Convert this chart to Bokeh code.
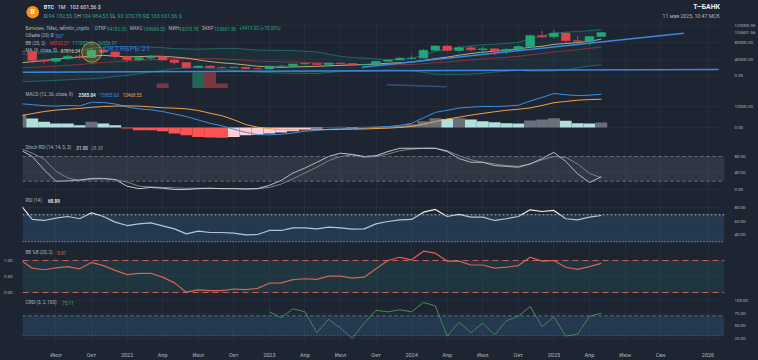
from bokeh.plotting import figure
from bokeh.layouts import column
from bokeh.models import (Range1d, LinearAxis, FixedTicker, PrintfTickFormatter, Label,
                          ColumnDataSource, Span, BoxAnnotation, Grid)
from bokeh.embed import file_html
from bokeh.resources import INLINE

# ====================== DATA ======================
months = [f"{y}-{m:02d}" for y in range(2021, 2026) for m in range(1, 13)
          if (2021, 4) <= (y, m) <= (2025, 5)]

open_usd = [58730, 57720, 37330, 35040, 41460, 47100, 43820, 61300, 56950,
            46210, 38470, 43160, 45510, 37640, 31790, 19940, 23300, 20050, 19420, 20490, 17170,
            16540, 23130, 23140, 28460, 29230, 27210, 30470, 29230, 25940, 26970, 34640, 37720,
            42280, 42580, 61130, 71330, 60640, 67490, 62680, 64630, 58970, 63330, 70220, 96410,
            93430, 102430, 84350, 82550, 94182.55]
high_usd = [64850, 59520, 41330, 42450, 50500, 52920, 67020, 69000, 59050,
            47990, 45820, 48190, 47440, 40000, 31960, 24670, 25210, 22800, 20990, 21480, 18390,
            23950, 25250, 29180, 31000, 29820, 31430, 31800, 30190, 27480, 35200, 38410, 44700,
            48970, 64000, 73780, 72720, 71980, 71950, 70000, 65650, 66500, 73620, 99590, 108350,
            109590, 102500, 95000, 95760, 104984.53]
low_usd = [47040, 30000, 28800, 29280, 37330, 39600, 43280, 53260, 42000,
           32930, 34320, 37160, 37580, 26700, 17570, 18780, 19520, 18130, 18170, 15480, 16260,
           16500, 21350, 19570, 26940, 25810, 24800, 28860, 25330, 24900, 26540, 34100, 37620,
           38560, 41880, 59000, 59120, 56550, 58400, 53490, 49000, 52550, 58900, 66800, 90500,
           89260, 78170, 76610, 74430, 93370.78]
close_usd = [57720, 37330, 35040, 41460, 47100, 43820, 61300, 56950, 46210,
             38470, 43160, 45510, 37640, 31790, 19940, 23300, 20050, 19420, 20490, 17170, 16540,
             23130, 23140, 28460, 29230, 27210, 30470, 29230, 25940, 26970, 34640, 37720, 42280,
             42580, 61130, 71330, 60640, 67490, 62680, 64630, 58970, 63330, 70220, 96410, 93430,
             102430, 84350, 82550, 94180, 103601.56]
volume = [0, 0, 0, 0, 0, 0, 0, 0, 0,
          0, 0, 0, 120, 0, 0, 380, 380, 120, 0, 0, 0,
          0, 0, 0, 0, 0, 0, 0, 0, 0, 0, 0, 0,
          0, 0, 0, 0, 0, 0, 0, 0, 0, 0, 0, 0,
          0, 0, 0, 0, 0]

ma9 = [31.08, 33.93, 36.63, 39.70, 42.74, 44.39, 47.52, 48.83, 47.44, 45.30, 45.95, 47.11, 46.68,
       44.98, 42.33, 38.11, 34.01, 31.03, 29.03, 26.15, 22.93, 21.31, 20.35, 21.30, 21.96, 22.75,
       23.98, 24.95, 25.93, 27.09, 28.37, 29.99, 31.52, 33.00, 36.77, 41.31, 44.80, 49.42, 53.39,
       56.72, 59.08, 61.42, 64.49, 68.41, 70.87, 75.51, 77.38, 79.59, 82.87, 87.82]
bb_basis = [18.75, 20.20, 21.49, 23.19, 25.18, 26.91, 29.54, 32.07, 33.94, 35.39, 37.10, 38.80,
            40.10, 41.15, 41.46, 41.64, 41.19, 40.51, 39.27, 37.19, 35.13, 34.42, 33.83, 33.18,
            32.29, 31.46, 29.91, 28.53, 27.51, 26.94, 26.51, 26.12, 26.36, 26.90, 28.96, 31.36,
            33.39, 35.79, 37.90, 40.27, 42.39, 44.40, 46.76, 50.16, 53.37, 57.13, 59.82, 62.49,
            65.90, 68.72]
bb_upper = [51.63, 53.66, 55.15, 57.29, 59.96, 61.79, 66.40, 69.17, 69.90, 69.59, 69.22, 68.84,
            67.46, 65.35, 64.38, 63.92, 64.79, 65.73, 65.87, 63.87, 61.51, 61.28, 61.13, 60.34,
            58.71, 57.44, 51.99, 46.77, 43.89, 42.52, 40.71, 38.54, 39.74, 41.88, 49.74, 58.96,
            63.23, 68.37, 71.68, 74.57, 75.79, 77.78, 80.42, 89.04, 95.29, 102.35, 104.82, 106.19,
            108.30, 111.04]
bb_lower = [-14.13, -13.26, -12.17, -10.91, -9.60, -7.97, -7.32, -5.03, -2.02, 1.19, 4.98, 8.76,
            12.74, 16.95, 18.54, 19.36, 17.59, 15.29, 12.67, 10.51, 8.75, 7.57, 6.53, 6.02, 5.87,
            5.48, 7.83, 10.29, 11.14, 11.36, 12.31, 13.70, 12.98, 11.92, 8.18, 3.76, 3.55, 3.21,
            4.12, 5.97, 8.99, 11.02, 13.10, 11.28, 11.45, 11.91, 14.82, 18.79, 23.50, 26.34]

macd_line = [11.3, 10.9, 10.4, 10.2, 10.5, 10.3, 12.0, 11.9, 11.2, 9.8, 8.9, 8.4, 7.6, 6.4, 5.2,
             3.6, 2.0, 0.8, -0.8, -2.3, -3.4, -3.5, -3.2, -2.6, -1.8, -1.4, -0.8, -0.6, -0.5,
             -0.4, 0.0, 0.4, 1.0, 2.0, 4.6, 7.2, 8.2, 9.3, 9.7, 10.0, 10.0, 10.2, 10.6, 12.6,
             14.3, 16.2, 15.6, 15.2, 15.4, 15.83]
macd_signal = [5.6, 6.6, 7.6, 8.3, 8.7, 9.1, 9.6, 10.0, 10.2, 10.3, 10.2, 9.8, 9.4, 9.2, 8.9,
               8.1, 6.8, 5.6, 3.7, 1.4, 0.2, -0.6, -1.0, -1.1, -1.1, -1.0, -1.0, -0.9, -0.8,
               -0.7, -0.5, -0.3, 0.0, 0.5, 1.6, 2.8, 4.1, 4.9, 5.9, 6.7, 7.5, 8.2, 8.7, 9.3,
               10.5, 11.8, 12.4, 13.0, 13.3, 13.47]
macd_hist = [6.1, 4.3, 2.7, 1.9, 1.85, 1.1, 2.7, 1.9, 1.1, -0.5, -1.3, -1.35, -1.8, -2.9, -3.7,
             -4.5, -4.8, -4.85, -4.5, -3.7, -3.6, -2.9, -2.4, -1.8, -0.8, -0.5, 0.2, 0.3, 0.25,
             0.3, 0.5, 0.7, 1.0, 1.5, 3.0, 4.4, 4.1, 4.4, 3.8, 3.0, 2.5, 2.0, 1.9, 3.3, 3.8,
             4.4, 3.2, 2.0, 1.9, 2.365]

stoch_k = [96, 80, 48, 20, 21, 23, 27, 27, 24, 8, 2, 5, 3, 0, 0, 2, 3, 2, 2, 1, 2, 10, 22, 40,
           52, 66, 80, 88, 85, 80, 82, 92, 100, 100, 100, 100, 92, 75, 66, 66, 58, 56, 54, 62,
           75, 90, 68, 38, 17, 31.0]
stoch_d = [100, 88, 74, 44, 28, 22, 25, 26, 24, 18, 8, 6, 5, 4, 3, 3, 3, 2, 2, 2, 2, 5, 13, 26,
           40, 54, 70, 80, 84, 78, 80, 86, 94, 98, 100, 100, 94, 82, 72, 66, 62, 58, 56, 62,
           72, 80, 78, 62, 39, 28.38]
rsi = [85, 63, 61.5, 65, 67.4, 64, 73, 67.4, 59, 54, 56.5, 58, 53.6, 49, 41.7, 45.6, 43.7, 43.7,
       42.7, 40.3, 40.7, 46.7, 46.7, 50.6, 50.6, 49, 51.6, 50.6, 48.6, 49, 56.5, 60, 62.5, 63,
       73.8, 77.8, 67.4, 70.4, 66.4, 66.4, 61.5, 64, 67.4, 77.3, 74.8, 76.3, 64, 62.5, 66.4, 68.89]
bb_pct = [1.02, 0.76, 0.71, 0.77, 0.81, 0.74, 0.94, 0.84, 0.69, 0.56, 0.60, 0.60, 0.48, 0.30, 0.01,
          0.08, 0.06, 0.06, 0.11, 0.09, 0.13, 0.29, 0.30, 0.40, 0.43, 0.41, 0.51, 0.51, 0.45, 0.48,
          0.74, 1.0, 1.10, 1.02, 1.29, 1.23, 0.98, 0.98, 0.86, 0.86, 0.76, 0.79, 0.84, 1.10, 0.98,
          1.0, 0.79, 0.72, 0.81, 0.91]
crsi = [None] * 21 + [78, 66, 84, 78, 36, 63, 45, 24.5, 55, 81, 78, 82, 78, 97, 90, 29, 57, 36,
                      55, 31.6, 60, 69, 88.7, 48, 68, 29, 33, 69, 75.11]

# drawings on the price pane (month index, price)
hline_t, hline_p = [3.18, 61.9], [8600, 15100]
trend_t, trend_p = [31.82, 58.96], [20600, 102200]
seg_t, seg_p = [33.92, 38.94], [-21600, -26400]
mark_t, mark_p = [9.02], [56600]
note_t, note_p, note_txt = [10.05], [66200], ["ОКТЯБРЬ 21"]

price_ticks = [0, 40000, 80000, 120000]
last_price = 103601.56
x_tick_pos = [6, 9, 12, 15, 18, 21, 24, 27, 30, 33, 36, 39, 42, 45, 48, 51, 54, 57, 61]
x_tick_lab = ["Июл", "Окт", "2022", "Апр", "Июл", "Окт", "2023", "Апр", "Июл", "Окт", "2024",
              "Апр", "Июл", "Окт", "2025", "Апр", "Июн", "Сен", "2026"]

# ====================== STYLE / LAYOUT ======================
W = 758
LB, RB = 21, 30
T_LEFT, T_RIGHT = 3.18, 62.39
FONT = "Roboto"
BG = "#1e2532"
GRID = "#252d3a"
TXT = "#b2b5be"
WHITE = "#e1e3ea"
UP, DN = "#22a67a", "#e0434f"
LEG = 4.6

t = [(int(s[:4]) - 2021) * 12 + int(s[5:]) - 1 for s in months]
K = 1000.0
xr = Range1d(T_LEFT, T_RIGHT)

CW = {' ': .25, ',': .2, '.': .26, '(': .34, ')': .35, '%': .73, '+': .57, '-': .28, '$': .56,
      '_': .45, 'Ø': .69, '·': .26, 'i': .24, 'l': .24, 'r': .34, 't': .33, 'f': .35, 'M': .87,
      'm': .88, 'w': .75, 'Ь': .62, 'М': .87, 'Ж': .9, 'Ш': .9, 'Щ': .92, 'Ю': .9, '—': 1.0}


def tw(s, size, bold=False):
    w = 0.0
    for ch in s:
        if ch in CW:
            w += CW[ch]
        elif ch.isdigit():
            w += .562
        elif 'А' <= ch <= 'Я':
            w += .66
        elif 'а' <= ch <= 'я' or ch == 'ё':
            w += .55
        elif ch.isupper():
            w += .65
        else:
            w += .52
    return w * size * (1.06 if bold else 1.0)


def make_pane(height, yr, yticks, bottom=0):
    p = figure(width=W, height=height, x_range=xr, y_range=Range1d(*yr),
               output_backend="svg", toolbar_location=None,
               x_axis_location=None, y_axis_location=None,
               min_border_left=LB, min_border_right=RB, min_border_top=0,
               min_border_bottom=bottom, background_fill_color=BG, border_fill_color=BG,
               outline_line_color=None)
    p.grid.visible = False
    p.add_layout(Grid(dimension=0, ticker=FixedTicker(ticks=x_tick_pos),
                      grid_line_color=GRID, grid_line_width=1))
    p.add_layout(Grid(dimension=1, ticker=FixedTicker(ticks=yticks),
                      grid_line_color=GRID, grid_line_width=1))
    return p


def axis(yticks, fmt="%.2f", size=4.4):
    return LinearAxis(ticker=FixedTicker(ticks=yticks), formatter=PrintfTickFormatter(format=fmt),
                      axis_line_color=None, major_tick_line_color=None,
                      minor_tick_line_color=None, major_label_standoff=4,
                      major_label_text_color=TXT, major_label_text_font=FONT,
                      major_label_text_font_size=f"{size}px")


def legend(p, yr, frame_h, y_px, pieces, size=LEG):
    y = yr[1] - y_px * (yr[1] - yr[0]) / frame_h
    x = 3.0
    for txt, col, bold, gap in pieces:
        p.add_layout(Label(x=T_LEFT, y=y, x_offset=x, text=txt, text_color=col,
                           text_font=FONT, text_font_size=f"{size}px",
                           text_font_style="bold" if bold else "normal",
                           text_baseline="middle", text_align="left"))
        x += tw(txt, size, bold) + gap


# ---------------- header ----------------
HEAD_H = 20
hd = figure(width=W, height=HEAD_H, x_range=Range1d(0, W), y_range=Range1d(HEAD_H, 0),
            output_backend="svg", toolbar_location=None, x_axis_location=None,
            y_axis_location=None, min_border=0, background_fill_color=BG,
            border_fill_color=BG, outline_line_color=None)
hd.grid.visible = False
hd.scatter(x=[11], y=[11.7], size=12.5, marker="circle", fill_color="#f7931a", line_color=None)
hd.add_layout(Label(x=11, y=11.7, text="B", text_color="white", text_font=FONT,
                    text_font_size="6.8px", text_font_style="bold", text_align="center",
                    text_baseline="middle"))


def htext(x, y, s, col, size, bold=False, align="left"):
    hd.add_layout(Label(x=x, y=y, text=s, text_color=col, text_font=FONT,
                        text_font_size=f"{size}px", text_font_style="bold" if bold else "normal",
                        text_align=align, text_baseline="middle"))


htext(23, 6.5, "BTC", WHITE, 5.4, True)
htext(34.5, 6.5, "·", TXT, 5.4)
htext(38, 6.5, "1M", WHITE, 5.4)
htext(47.5, 6.5, "·", TXT, 5.4)
htext(51, 6.5, "103 601,56 $", WHITE, 5.4)
xh = 23.0
for lab, val in [("O", "94 182,55 $"), ("H", "104 984,53 $"), ("L", "93 370,78 $"),
                 ("C", "103 601,56 $")]:
    htext(xh, 15, lab, TXT, 5.4)
    xh += tw(lab, 5.4) + 1.6
    htext(xh, 15, val, UP, 5.4)
    xh += tw(val, 5.4) + 2.6
htext(753, 6.3, "Т—БАНК", "#f0f0f0", 6.8, True, "right")
htext(753, 15, "11 мая 2025, 10:47 МСК", TXT, 5.2, False, "right")

# ---------------- price pane ----------------
PR_YR = (-30500, 132700)
PR_H = 68
pp = make_pane(PR_H, PR_YR, price_ticks)
pp.add_layout(axis(price_ticks + [last_price]), "right")
pp.extra_y_ranges = {"vol": Range1d(0, 1600)}

cols = [UP if c >= o else DN for o, c in zip(open_usd, close_usd)]
src = ColumnDataSource(dict(
    t=t, o=open_usd, h=high_usd, l=low_usd, c=close_usd,
    top=[max(o, c) for o, c in zip(open_usd, close_usd)],
    bot=[min(o, c) for o, c in zip(open_usd, close_usd)],
    col=cols, vol=volume,
    up=[v * K for v in bb_upper], mid=[v * K for v in bb_basis], lo=[v * K for v in bb_lower],
    ma=[v * K for v in ma9]))
pp.varea(x="t", y1="lo", y2="up", source=src, fill_color="#26a69a", fill_alpha=0.07)
pp.line("t", "up", source=src, line_color="#26a69a", line_alpha=0.55, line_width=0.9)
pp.line("t", "lo", source=src, line_color="#26a69a", line_alpha=0.55, line_width=0.9)
pp.line("t", "mid", source=src, line_color="#f23645", line_alpha=0.55, line_width=0.9)
pp.line("t", "ma", source=src, line_color="#e6d38c", line_alpha=0.85, line_width=0.9)
pp.vbar(x="t", width=1.0, top="vol", bottom=0, source=src, fill_color="col", fill_alpha=0.5,
        line_color=None, y_range_name="vol")
pp.segment(x0="t", y0="l", x1="t", y1="h", source=src, line_color="col", line_width=0.8)
pp.vbar(x="t", width=0.74, top="top", bottom="bot", source=src, fill_color="col",
        line_color="col", line_width=0.5)
pp.line(hline_t, hline_p, line_color="#3f86e0", line_width=1.4)
pp.line(trend_t, trend_p, line_color="#3f86e0", line_width=1.4)
pp.line(seg_t, seg_p, line_color="#2b4f86", line_width=1.4)
pp.scatter(mark_t, mark_p, size=20, marker="circle", fill_color="#e8b92a", fill_alpha=0.22,
           line_color="#d6a72c", line_alpha=0.85, line_width=1)
pp.text(x=note_t, y=note_p, text=note_txt, text_color="#3571db", text_font_size="8px",
        text_baseline="middle", text_align="left", text_font={"value": FONT})
legend(pp, PR_YR, PR_H, 8, [
    ("Биткоин, 1Мес, refinitiv_crypto", TXT, False, 4.0 + tw(" ", LEG)),
    ("ОТКР", TXT, False, 0.4), ("94182.55", UP, False, 3.4),
    ("МАКС", TXT, False, 0.4), ("104984.53", UP, False, 3.4),
    ("МИН", TXT, False, 0.4), ("93370.78", UP, False, 3.4),
    ("ЗАКР", TXT, False, 0.4), ("103601.56", UP, False, 3.4),
    ("+9419.02 (+10.00%)", UP, False, 0)])
legend(pp, PR_YR, PR_H, 15, [("Объём (20)  Ø", TXT, False, 2.0), ("367", "#4f83e6", False, 0)])
legend(pp, PR_YR, PR_H, 22.7, [("BB (20, 2)", TXT, False, 4.0), ("68722.27", "#f23645", False, 3.4),
                               ("111037.56", "#26a69a", False, 3.4),
                               ("26336.97", "#26a69a", False, 0)])
legend(pp, PR_YR, PR_H, 30, [("MA (9, close, 0)", TXT, False, 4.0),
                             ("87816.24", "#e6d38c", False, 0)])

# ---------------- MACD pane ----------------
MD_YR = (-6190, 18570)
MD_H = 52
mp = make_pane(MD_H, MD_YR, [0, 10000])
mp.add_layout(axis([0, 10000]), "right")
hcol = []
for i, hv in enumerate(macd_hist):
    pv = macd_hist[i - 1] if i else None
    if hv >= 0:
        hcol.append("#6b6f7b" if pv is None or hv >= pv else "#b2dfdb")
    else:
        hcol.append("#ffcdd2" if pv is not None and hv > pv else "#ff5252")
msrc = ColumnDataSource(dict(t=t, h=[v * K for v in macd_hist], m=[v * K for v in macd_line],
                             s=[v * K for v in macd_signal], col=hcol))
mp.vbar(x="t", width=1.0, top="h", bottom=0, source=msrc, fill_color="col", line_color=None)
mp.line("t", "m", source=msrc, line_color="#3d8ee0", line_width=1.0)
mp.line("t", "s", source=msrc, line_color="#f0a04b", line_width=1.0)
legend(mp, MD_YR, MD_H, 6, [("MACD (12, 26, close, 9)", TXT, False, 6.0),
                            ("2365.04", WHITE, True, 3.4), ("15833.60", "#3d8ee0", False, 3.4),
                            ("13468.55", "#f0a04b", False, 0)])

# ---------------- Stoch RSI pane ----------------
ST_YR = (-7.3, 118.8)
ST_H = 52
sp = make_pane(ST_H, ST_YR, [0, 40, 80])
sp.add_layout(axis([0, 40, 80]), "right")
sp.add_layout(BoxAnnotation(bottom=20, top=80, fill_color="#787b86", fill_alpha=0.2,
                            line_color=None))
for lv in (20, 80):
    sp.add_layout(Span(location=lv, dimension="width", line_color="#7d808a", line_width=0.8,
                       line_dash="3 3"))
sp.line(t, stoch_d, line_color="#8c8f99", line_width=0.9)
sp.line(t, stoch_k, line_color="#d6d8de", line_width=0.9)
legend(sp, ST_YR, ST_H, 7, [("Stoch RSI (14, 14, 3, 3)", TXT, False, 3.0),
                            ("31.00", WHITE, False, 3.4), ("28.38", "#8c8f99", False, 0)])

# ---------------- RSI pane ----------------
RS_YR = (27.4, 102.9)
RS_H = 51
rp = make_pane(RS_H, RS_YR, [40, 60, 80])
rp.add_layout(axis([40, 60, 80]), "right")
rp.add_layout(BoxAnnotation(bottom=30, top=70, fill_color="#356896", fill_alpha=0.3,
                            line_color=None))
rp.add_layout(Span(location=70, dimension="width", line_color="#d1d4dc", line_width=0.8,
                   line_dash="2 2"))
rp.add_layout(Span(location=30, dimension="width", line_color="#d1d4dc", line_width=0.8,
                   line_dash="1 2"))
rp.line(t, rsi, line_color="#eceef2", line_width=1.2)
legend(rp, RS_YR, RS_H, 8, [("RSI (14)", TXT, False, 4.0), ("68.89", WHITE, True, 0)])

# ---------------- BB %B pane ----------------
BP_YR = (-0.125, 1.531)
BP_H = 53
bp = make_pane(BP_H, BP_YR, [0, 0.5, 1.0])
bp.add_layout(axis([0, 0.5, 1.0]), "left")
bp.add_layout(BoxAnnotation(bottom=0, top=1, fill_color="#26a69a", fill_alpha=0.13,
                            line_color=None))
for lv in (0, 1):
    bp.add_layout(Span(location=lv, dimension="width", line_color="#e06a5e", line_width=1.2,
                       line_dash="6 4", line_alpha=0.85))
bp.line(t, bb_pct, line_color="#ef5a4c", line_width=1.2)
legend(bp, BP_YR, BP_H, 9, [("BB %B (20, 2)", TXT, False, 4.0),
                            ("0.91", "#ef5a4c", False, 0)])

# ---------------- CRSI pane ----------------
CR_YR = (16.1, 108.9)
CR_H = 52
XAX = 12
cp = make_pane(CR_H + XAX, CR_YR, [25, 50, 75, 100], bottom=XAX)
cp.add_layout(axis([25, 50, 75, 100]), "right")
cp.add_layout(BoxAnnotation(bottom=30, top=70, fill_color="#356896", fill_alpha=0.3,
                            line_color=None))
cp.add_layout(Span(location=70, dimension="width", line_color="#5f9a72", line_width=0.8,
                   line_dash="3 3"))
cp.add_layout(Span(location=30, dimension="width", line_color="#5f9a72", line_width=0.8,
                   line_dash="1 2"))
cp.line(t, [float("nan") if v is None else v for v in crsi], line_color="#4caf50",
        line_width=0.8)
legend(cp, CR_YR, CR_H, 7, [("CRSI (3, 2, 100)", TXT, False, 3.5),
                            ("75.11", "#4caf50", False, 0)])
xa = LinearAxis(ticker=FixedTicker(ticks=x_tick_pos),
                major_label_overrides={p: l for p, l in zip(x_tick_pos, x_tick_lab)},
                axis_line_color=None, major_tick_line_color=None, minor_tick_line_color=None,
                major_label_standoff=3, major_label_text_color=TXT, major_label_text_font=FONT,
                major_label_text_font_size="5.5px")
cp.add_layout(xa, "below")

layout = column(hd, pp, mp, sp, rp, bp, cp, spacing=0)
try:
    from bokeh.models import GlobalInlineStyleSheet
    layout.stylesheets = [GlobalInlineStyleSheet(css="html, body {background: #1e2532;}")]
except Exception:
    pass

open("out.html", "w").write(file_html(layout, INLINE))
